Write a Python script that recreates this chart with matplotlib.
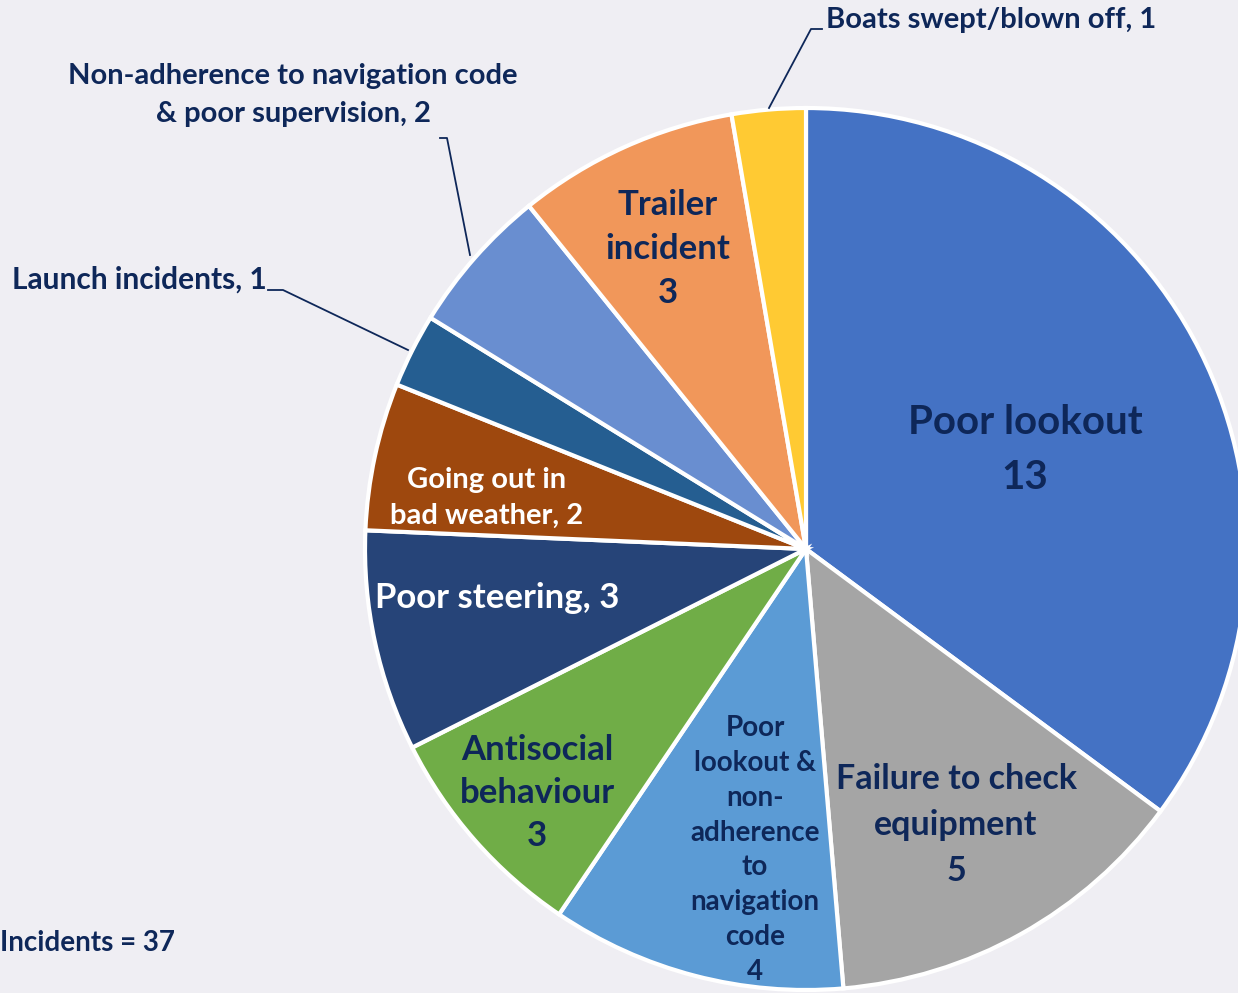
import matplotlib
matplotlib.use('Agg')
import matplotlib.pyplot as plt

# Data
categories = [
    'Poor lookout',
    'Failure to check equipment',
    'Poor lookout & non-adherence to navigation code',
    'Antisocial behaviour',
    'Poor steering',
    'Going out in bad weather',
    'Launch incidents',
    'Non-adherence to navigation code & poor supervision',
    'Trailer incident',
    'Boats swept/blown off',
]
counts = [13, 5, 4, 3, 3, 2, 1, 2, 3, 1]
colors = ['#4472C4', '#A5A5A5', '#5B9BD5', '#70AD47', '#264478',
          '#9E480E', '#255E91', '#698ED0', '#F1975A', '#FFCA33']

NAVY = '#0E2759'
BG = '#EFEEF3'

plt.rcParams['font.family'] = ['Lato', 'DejaVu Sans']
plt.rcParams['font.weight'] = 'bold'

W, H = 1238, 993
fig = plt.figure(figsize=(W / 100, H / 100), dpi=100, facecolor=BG)
ax = fig.add_axes([0, 0, 1, 1])
ax.set_facecolor(BG)

# pie in image pixel coords (y axis inverted -> counterclock=True draws clockwise on screen)
cx, cy, r = 806, 549, 441
wedges, _ = ax.pie(counts, colors=colors, startangle=-90, counterclock=True,
                   center=(cx, cy), radius=r, frame=True,
                   wedgeprops=dict(edgecolor='white', linewidth=3))
ax.set_xlim(0, W)
ax.set_ylim(H, 0)
ax.set_aspect('equal')
ax.axis('off')


def label(x, y, s, size, color=NAVY, ls=1.15, ha='center'):
    ax.text(x, y, s, fontsize=size, color=color, ha=ha, va='center',
            fontweight='bold', linespacing=ls, multialignment='center')


# inside labels
label(1025, 450, 'Poor lookout\n13', 29, ls=1.57)
label(956, 825, 'Failure to check\nequipment\n5', 24.5, ls=1.53)
label(755, 850, 'Poor\nlookout &\nnon-\nadherence\nto\nnavigation\ncode\n4', 20, ls=1.42)
label(537, 793, 'Antisocial\nbehaviour\n3', 25, ls=1.44)
label(497, 598, 'Poor steering, 3', 25, color='white')
label(487, 498, 'Going out in\nbad weather, 2', 21, color='white', ls=1.46)
label(668, 249, 'Trailer\nincident\n3', 25, ls=1.48)

# outside labels with leader lines
label(12, 280, 'Launch incidents, 1', 21.5, ha='left')
ax.plot([268, 283, 408], [290, 290, 350], color=NAVY, lw=1.3)

label(293, 95, 'Non-adherence to navigation code\n& poor supervision, 2', 21, ls=1.55)
ax.plot([440, 447, 470], [138, 138, 255], color=NAVY, lw=1.3)

label(826, 20, 'Boats swept/blown off, 1', 21, ha='left')
ax.plot([822, 811, 769], [29, 29, 108], color=NAVY, lw=1.3)

label(0, 943, 'Incidents = 37', 20, ha='left')

fig.savefig('out.png', dpi=100, facecolor=BG)
